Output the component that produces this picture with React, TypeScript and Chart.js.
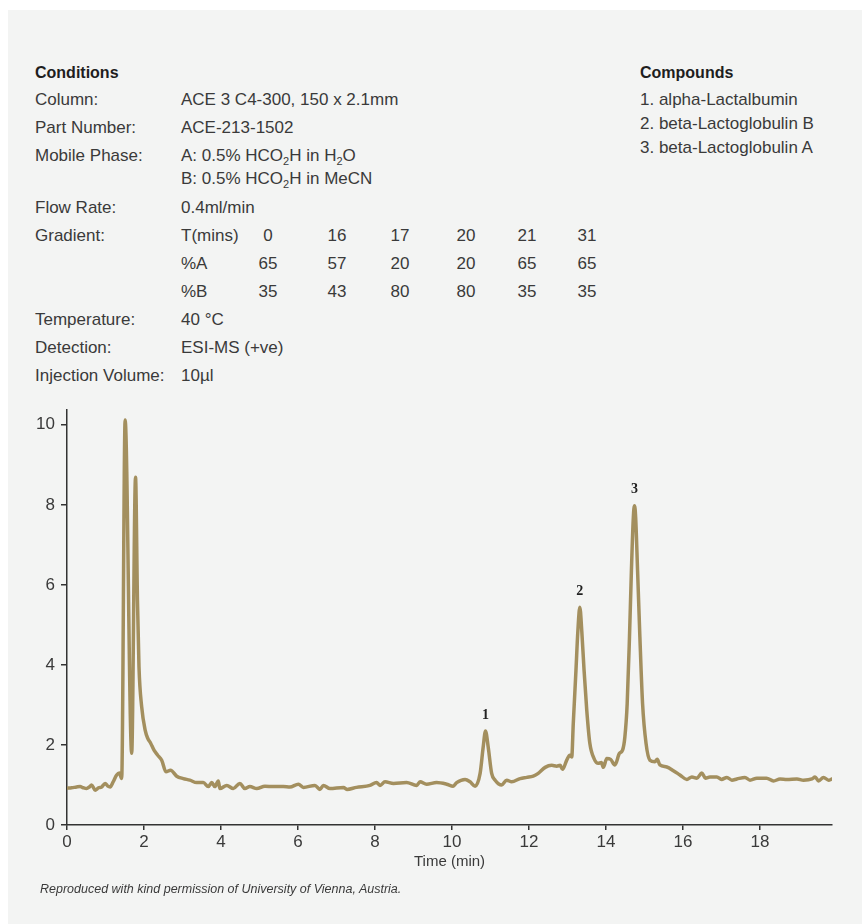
import React, { useEffect, useRef } from "react";
import { Chart, registerables } from "chart.js";

Chart.register(...registerables);

// ---------- data ----------
const conditionRows: { label: string; value: string }[] = [
  { label: "Column:", value: "ACE 3 C4-300, 150 x 2.1mm" },
  { label: "Part Number:", value: "ACE-213-1502" },
];
const flowRate = "0.4ml/min";
const temperature = "40 °C";
const detection = "ESI-MS (+ve)";
const injectionVolume = "10µl";

const gradientTimes = ["0", "16", "17", "20", "21", "31"];
const gradientA = ["65", "57", "20", "20", "65", "65"];
const gradientB = ["35", "43", "80", "80", "35", "35"];

const compounds = ["1. alpha-Lactalbumin", "2. beta-Lactoglobulin B", "3. beta-Lactoglobulin A"];

const xTickStep = 2;
const xMax = 19.87;
const yTickStep = 2;
const yMax = 10.37;

const times = [
  0.0, 0.12, 0.25, 0.34, 0.42, 0.51, 0.58, 0.64, 0.73, 0.82, 0.9, 0.99, 1.06, 1.12, 1.2, 1.29, 1.36, 1.42,
  1.51, 1.68, 1.78, 1.83, 1.87, 1.94, 2.03, 2.1, 2.17, 2.26, 2.35, 2.46, 2.57, 2.69, 2.85, 3.02, 3.19, 3.37,
  3.54, 3.67, 3.76, 3.84, 3.93, 3.97, 4.15, 4.32, 4.49, 4.62, 4.75, 4.93, 5.14, 5.36, 5.62, 5.79, 6.01, 6.14,
  6.44, 6.57, 6.66, 6.83, 7.18, 7.27, 7.52, 7.87, 8.04, 8.13, 8.26, 8.48, 8.82, 9.08, 9.17, 9.34, 9.6, 9.86,
  10.03, 10.12, 10.34, 10.47, 10.6, 10.73, 10.81, 10.87, 10.94, 11.03, 11.12, 11.29, 11.42, 11.55, 11.77,
  11.94, 12.11, 12.24, 12.42, 12.59, 12.72, 12.81, 12.87, 12.98, 13.06, 13.11, 13.15, 13.22, 13.27, 13.32,
  13.37, 13.43, 13.5, 13.58, 13.69, 13.8, 13.88, 13.93, 14.02, 14.12, 14.23, 14.35, 14.43, 14.49, 14.55,
  14.61, 14.66, 14.71, 14.74, 14.77, 14.82, 14.88, 14.95, 15.04, 15.14, 15.27, 15.33, 15.4, 15.58, 15.76,
  15.92, 16.1, 16.23, 16.36, 16.49, 16.58, 16.7, 16.88, 17.0, 17.14, 17.27, 17.4, 17.61, 17.74, 17.92, 18.17,
  18.35, 18.52, 18.7, 18.96, 19.13, 19.35, 19.43, 19.52, 19.65, 19.78, 19.87,
];
const signal = [
  0.92, 0.93, 0.95, 0.96, 0.93, 0.91, 0.95, 1.0, 0.87, 0.93, 0.95, 1.04, 0.97, 0.95, 1.08, 1.25, 1.3, 1.16,
  10.12, 1.79, 8.69, 5.61, 3.95, 2.95, 2.37, 2.16, 2.05, 1.87, 1.75, 1.62, 1.33, 1.37, 1.22, 1.16, 1.12, 1.06,
  1.06, 0.96, 1.06, 0.96, 1.1, 0.91, 0.99, 0.91, 1.04, 0.91, 0.96, 0.91, 0.97, 0.96, 0.96, 0.95, 1.02, 0.94,
  0.99, 0.89, 0.99, 0.91, 0.94, 0.89, 0.94, 0.99, 1.06, 0.99, 1.08, 1.04, 1.06, 0.99, 1.08, 1.02, 1.06, 1.02,
  0.97, 1.06, 1.14, 1.08, 0.97, 1.29, 1.95, 2.35, 1.95, 1.29, 1.12, 1.0, 1.12, 1.08, 1.16,
  1.19, 1.22, 1.29, 1.44, 1.49, 1.47, 1.49, 1.39, 1.62, 1.74, 1.7, 2.54, 3.87, 4.86, 5.44,
  4.86, 3.87, 2.87, 2.04, 1.66, 1.54, 1.56, 1.44, 1.66, 1.64, 1.5, 1.79, 1.87, 2.2, 3.03,
  4.7, 6.36, 7.69, 7.98, 7.69, 6.36, 4.7, 3.03, 2.04, 1.62, 1.58, 1.64, 1.5, 1.45, 1.35,
  1.25, 1.14, 1.2, 1.17, 1.3, 1.17, 1.2, 1.2, 1.14, 1.19, 1.12, 1.15, 1.19, 1.12, 1.17, 1.17,
  1.1, 1.15, 1.14, 1.15, 1.12, 1.15, 1.2, 1.1, 1.19, 1.12, 1.15,
];

const peakLabels = ["1", "2", "3"];
const peakTimes = [10.87, 13.32, 14.74];
const peakValues = [2.35, 5.44, 7.98];

// ---------- styles ----------
const FONT = "'Liberation Sans', Arial, sans-serif";
const TEXT = "#3a3a3a";
const LINE = "rgb(163,143,94)";
const AXIS = "#333333";

const abs = (left: number, cy: number, extra: React.CSSProperties = {}): React.CSSProperties => ({
  position: "absolute",
  left,
  top: cy - 10,
  height: 20,
  lineHeight: "20px",
  whiteSpace: "nowrap",
  ...extra,
});

const subStyle: React.CSSProperties = { fontSize: 11, verticalAlign: "-4px", lineHeight: 0 };

function ChromChart() {
  const ref = useRef<HTMLCanvasElement | null>(null);
  useEffect(() => {
    if (!ref.current) return;
    const peakLabelPlugin = {
      id: "peakLabels",
      afterDatasetsDraw(chart: any) {
        const { ctx, scales } = chart;
        ctx.save();
        ctx.font = "bold 14px 'Liberation Serif', 'DejaVu Serif', serif";
        ctx.fillStyle = "#222";
        ctx.textAlign = "center";
        ctx.textBaseline = "middle";
        peakLabels.forEach((lab, i) => {
          const x = scales.x.getPixelForValue(peakTimes[i]);
          const y = scales.y.getPixelForValue(peakValues[i]) - 16;
          ctx.fillText(lab, x, y);
        });
        ctx.restore();
      },
    };
    const chart = new Chart(ref.current, {
      type: "line",
      data: {
        datasets: [
          {
            data: times.map((t, i) => ({ x: t, y: signal[i] })),
            borderColor: LINE,
            borderWidth: 3.5,
            pointRadius: 0,
            fill: false,
            cubicInterpolationMode: "monotone",
            borderJoinStyle: "round",
            borderCapStyle: "round",
          },
        ],
      },
      options: {
        responsive: false,
        animation: false,
        events: [],
        layout: { padding: { left: 0, right: 30, top: 10, bottom: 0 } },
        plugins: { legend: { display: false }, tooltip: { enabled: false } },
        scales: {
          x: {
            type: "linear",
            min: 0,
            max: xMax,
            afterFit: (s: any) => {
              s.height = 55;
              s.paddingLeft = 0;
              s.paddingRight = 0;
            },
            ticks: {
              stepSize: xTickStep,
              includeBounds: false,
              color: TEXT,
              font: { family: FONT, size: 17 },
              padding: 2,
              maxRotation: 0,
            },
            grid: { display: true, drawOnChartArea: false, drawTicks: true, tickLength: 5, color: AXIS, lineWidth: 1.5 },
            border: { display: true, color: AXIS, width: 1.5 },
            title: {
              display: true,
              text: "Time (min)",
              color: TEXT,
              font: { family: FONT, size: 15 },
              padding: { top: 0, bottom: 9 },
            },
          },
          y: {
            type: "linear",
            min: 0,
            max: yMax,
            afterFit: (s: any) => {
              s.width = 67;
              s.paddingTop = 0;
              s.paddingBottom = 0;
            },
            ticks: {
              stepSize: yTickStep,
              includeBounds: false,
              color: TEXT,
              font: { family: FONT, size: 17 },
              padding: 6,
            },
            grid: { display: true, drawOnChartArea: false, drawTicks: true, tickLength: 6, color: AXIS, lineWidth: 1.5 },
            border: { display: true, color: AXIS, width: 1.5 },
          },
        },
      },
      plugins: [peakLabelPlugin],
    } as any);
    return () => chart.destroy();
  }, []);
  return (
    <canvas
      ref={ref}
      width={862}
      height={480}
      style={{ position: "absolute", left: 0, top: 400, width: 862, height: 480, display: "block" }}
    />
  );
}

export default function App() {
  const labelX = 35;
  const valueX = 181;
  const gradX = [268, 337, 400, 466, 527, 587];
  const centered = (cx: number, cy: number, text: string, key: string) => (
    <div key={key} style={abs(cx - 30, cy, { width: 60, textAlign: "center" })}>
      {text}
    </div>
  );
  return (
    <div style={{ position: "absolute", left: 0, top: 0, width: 862, height: 924, overflow: "hidden", fontFamily: FONT }}>
      <div style={{ position: "absolute", left: 8, top: 10, width: 854, height: 914, background: "#f3f4f3" }} />
      <div style={{ position: "absolute", left: 0, top: 0, width: 862, height: 400, fontSize: 17, color: TEXT }}>
        <div style={abs(labelX, 73, { fontWeight: "bold", fontSize: 16, color: "#1e1e1e" })}>Conditions</div>
        {conditionRows.map((r, i) => (
          <React.Fragment key={r.label}>
            <div style={abs(labelX, 100 + i * 28)}>{r.label}</div>
            <div style={abs(valueX, 100 + i * 28)}>{r.value}</div>
          </React.Fragment>
        ))}
        <div style={abs(labelX, 156)}>Mobile Phase:</div>
        <div style={abs(valueX, 156)}>
          A: 0.5% HCO<sub style={subStyle}>2</sub>H in H<sub style={subStyle}>2</sub>O
        </div>
        <div style={abs(valueX, 179)}>
          B: 0.5% HCO<sub style={subStyle}>2</sub>H in MeCN
        </div>
        <div style={abs(labelX, 208)}>Flow Rate:</div>
        <div style={abs(valueX, 208)}>{flowRate}</div>
        <div style={abs(labelX, 236)}>Gradient:</div>
        <div style={abs(valueX, 236)}>T(mins)</div>
        {gradientTimes.map((v, i) => centered(gradX[i], 236, v, "t" + i))}
        <div style={abs(valueX, 264)}>%A</div>
        {gradientA.map((v, i) => centered(gradX[i], 264, v, "a" + i))}
        <div style={abs(valueX, 292)}>%B</div>
        {gradientB.map((v, i) => centered(gradX[i], 292, v, "b" + i))}
        <div style={abs(labelX, 320)}>Temperature:</div>
        <div style={abs(valueX, 320)}>{temperature}</div>
        <div style={abs(labelX, 348)}>Detection:</div>
        <div style={abs(valueX, 348)}>{detection}</div>
        <div style={abs(labelX, 376)}>Injection Volume:</div>
        <div style={abs(valueX, 376)}>{injectionVolume}</div>

        <div style={abs(640, 73, { fontWeight: "bold", fontSize: 16, color: "#1e1e1e" })}>Compounds</div>
        {compounds.map((c, i) => (
          <div key={c} style={abs(640, 100 + i * 24)}>
            {c}
          </div>
        ))}
      </div>
      <ChromChart />
      <div style={abs(40, 889, { fontSize: 12.5, fontStyle: "italic", color: TEXT })}>
        Reproduced with kind permission of University of Vienna, Austria.
      </div>
    </div>
  );
}
